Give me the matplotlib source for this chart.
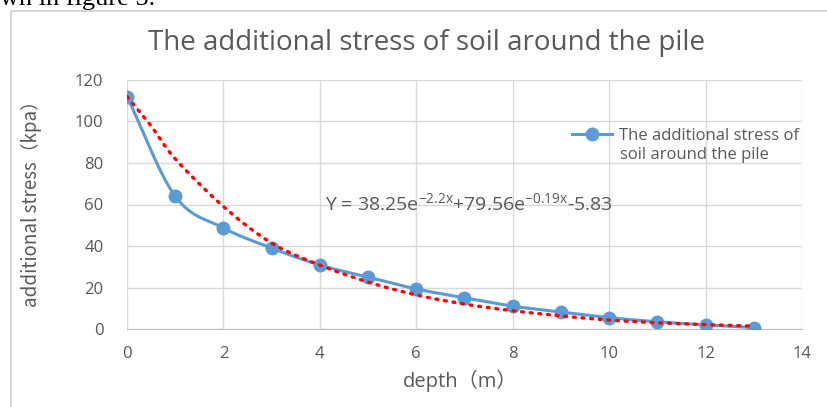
import matplotlib
matplotlib.use("Agg")
import matplotlib.pyplot as plt
import numpy as np
from matplotlib.patches import Rectangle
from matplotlib.lines import Line2D

# measured stress values (kPa) at each depth (m)
depth = [0, 1, 2, 3, 4, 5, 6, 7, 8, 9, 10, 11, 12, 13]
stress = [112, 64, 48.7, 39, 30.8, 25, 19.3, 15, 11, 8.2, 5.5, 3.5, 2, 0.7]

# fitted trend curve
fit_depth = [0, 0.5, 1, 2, 3, 4, 5, 6, 7, 8, 9, 10, 11, 12, 13]
fit_stress = [112, 97.8, 82, 59, 41.4, 30.8, 22.6, 16.4, 12, 8.8, 6.3, 4.3, 3.0, 2.1, 1.4]

xticks = [0, 2, 4, 6, 8, 10, 12, 14]
yticks = [0, 20, 40, 60, 80, 100, 120]
legend_lines = ["The additional stress of", "soil around the pile"]

GRAY = "#595959"
BLUE = "#5B9BD5"

plt.rcParams["mathtext.fontset"] = "custom"
plt.rcParams["mathtext.rm"] = "Open Sans"
plt.rcParams["mathtext.default"] = "rm"


def smooth(x, y, n=20):
    # catmull-rom style smoothing like excel's smoothed line
    x = np.asarray(x, float)
    y = np.asarray(y, float)
    px = np.concatenate([[2 * x[0] - x[1]], x, [2 * x[-1] - x[-2]]])
    py = np.concatenate([[2 * y[0] - y[1]], y, [2 * y[-1] - y[-2]]])
    xs, ys = [], []
    t = np.linspace(0, 1, n, endpoint=False)
    for i in range(1, len(px) - 2):
        for arr, out in ((px, xs), (py, ys)):
            p0, p1, p2, p3 = arr[i - 1], arr[i], arr[i + 1], arr[i + 2]
            out.extend(0.5 * (2 * p1 + (-p0 + p2) * t
                              + (2 * p0 - 5 * p1 + 4 * p2 - p3) * t ** 2
                              + (-p0 + 3 * p1 - 3 * p2 + p3) * t ** 3))
    xs.append(x[-1])
    ys.append(y[-1])
    return np.array(xs), np.array(ys)


fig = plt.figure(figsize=(8.27, 4.07), dpi=100)
ax = fig.add_axes([127 / 827, 1 - 329 / 407, 675 / 827, 249 / 407])

# chart frame
fig.patches.append(Rectangle((11 / 827, -0.1), 1.2, 1 - 11 / 407 + 0.1,
                             transform=fig.transFigure, fill=False,
                             edgecolor="#d0d0d0", lw=1.2))

sx, sy = smooth(depth, stress)
ax.plot(sx, sy, color=BLUE, lw=2.2, zorder=3)
ax.plot(depth, stress, "o", color=BLUE, ms=9, zorder=4)
fx, fy = smooth(fit_depth, fit_stress)
ax.plot(fx, fy, color="red", lw=2.4, linestyle=(0, (0.6, 2.0)),
        dash_capstyle="round", zorder=5)

ax.set_xlim(0, 14)
ax.set_ylim(0, 120)
ax.set_xticks(xticks)
ax.set_yticks(yticks)
ax.grid(True, color="#d9d9d9", lw=1)
ax.set_axisbelow(True)
for s in ["top", "right", "left"]:
    ax.spines[s].set_visible(False)
ax.spines["bottom"].set_color("#bfbfbf")
ax.tick_params(length=0, labelsize=12, labelcolor=GRAY)
for lab in ax.get_xticklabels() + ax.get_yticklabels():
    lab.set_family("Open Sans")
ax.tick_params(axis="x", pad=12)
ax.tick_params(axis="y", pad=17)

ax.text(4.1, 60.5, r"Y = 38.25e$^{-2.2x}$+79.56e$^{-0.19x}$-5.83",
        fontsize=14, color=GRAY, family="Open Sans", va="center")

# legend: handle sits on the first line, second line wraps underneath
handle = Line2D([], [], color=BLUE, lw=2.2, marker="o", ms=9)
ax.legend([handle], [legend_lines[0]],
          loc="upper left", bbox_to_anchor=(0.659, 0.806), frameon=False,
          borderpad=0, borderaxespad=0,
          handlelength=2.4, handletextpad=0.45, labelcolor=GRAY,
          prop={"family": "Open Sans", "size": 12})
fig.text(620 / 827, 1 - 155 / 407, legend_lines[1], va="center",
         fontsize=12, color=GRAY, family="Open Sans")

fig.text(427 / 827, 1 - 43 / 407, "The additional stress of soil around the pile",
         ha="center", va="center", fontsize=20, color=GRAY, family="Open Sans")
fig.text(460 / 827, 1 - 381 / 407, "depth（m）", ha="center", va="center",
         fontsize=14.5, color=GRAY, family=["Open Sans", "Noto Sans CJK SC"])
fig.text(31 / 827, 1 - 199 / 407, "additional stress（kpa）", ha="center",
         va="center", rotation=90, fontsize=13.5, color=GRAY,
         family=["Liberation Sans Narrow", "Noto Sans CJK SC"])

# cut-off line of body text above the chart
fig.text(0, 1 - 5 / 407, "wn in figure 5.", fontsize=19, color="black",
         family="Liberation Serif", va="baseline")

fig.savefig("out.png", dpi=100)
plt.close()
